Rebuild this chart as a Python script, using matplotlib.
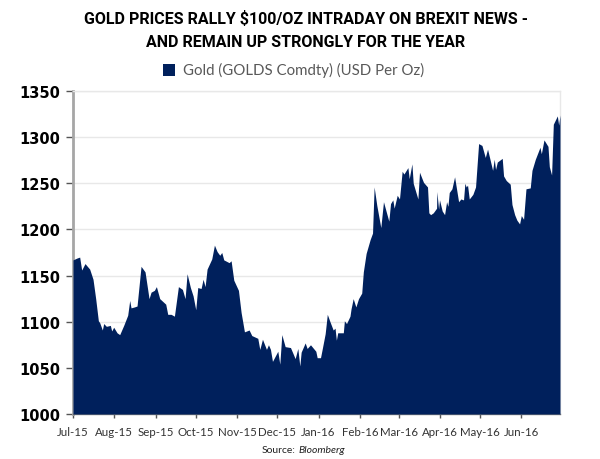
import datetime as dt
import matplotlib
matplotlib.use("Agg")
import matplotlib.pyplot as plt
import matplotlib.dates as mdates
from matplotlib.patches import Rectangle

title_lines = "GOLD PRICES RALLY $100/OZ INTRADAY ON BREXIT NEWS -\nAND REMAIN UP STRONGLY FOR THE YEAR"
series_name = "Gold (GOLDS Comdty) (USD Per Oz)"
y_ticks = [1000, 1050, 1100, 1150, 1200, 1250, 1300, 1350]

# days since 1 Jul 2015, gold price USD/oz
day_offset = [0, 3, 5, 6.5, 9, 12.5, 15, 17, 19, 20, 22, 23, 25, 28, 29, 30.5, 33, 35, 38, 41, 42.5, 43.5, 46, 48,
              51, 54, 57, 58.5, 61, 62.5, 65, 69.5, 71, 73.5, 76, 79, 82, 84, 85.5, 88, 90, 92, 93.5, 96, 97.5, 99,
              100.5, 104, 106, 108, 110, 111.5, 113, 117, 118.5, 120.5, 124, 126, 128.5, 132, 134, 138.5, 140, 142,
              145, 146.5, 148, 149.5, 153.5, 155, 156.5, 159, 163, 166.5, 168.5, 170, 171, 174, 175.5, 178, 182, 183,
              185.5, 187, 189, 190.6, 192.6, 195, 196.4, 197.4, 198.4, 202.6, 203.4, 205, 207.6, 208.4, 210, 212, 214,
              216.4, 217.6, 219.7, 222.7, 224.5, 225.7, 227.7, 230.7, 232.7, 236.7, 238, 239.7, 240.7, 243, 244.7,
              246.7, 248, 251, 252, 254, 255, 258.5, 259.7, 262.7, 265.7, 266.7, 268, 270, 272.5, 272.7, 274, 274.7,
              276.7, 278.5, 280, 281, 282, 284, 286, 289, 290.7, 292.7, 293.7, 294.7, 295.7, 297, 299.7, 301.7, 304,
              306.5, 309, 310.7, 314.5, 315.7, 316.7, 318, 321.7, 322.7, 324.7, 327.7, 329, 331, 332.7, 334.7, 336,
              337.7, 339.5, 342.7, 344, 346.5, 350, 351, 353, 356, 357, 358.7, 360, 363, 364, 365]
gold_price = [1167, 1169, 1170, 1156, 1163, 1157, 1146, 1125, 1101, 1099, 1091, 1098, 1095, 1096, 1090, 1094, 1088, 1086,
              1096, 1107, 1123, 1115, 1116, 1117, 1160, 1154, 1125, 1132, 1134, 1138, 1125, 1119, 1108, 1108, 1106, 1138,
              1135, 1125, 1152, 1137, 1128, 1113, 1137, 1136, 1146, 1138, 1157, 1168, 1183, 1176, 1172, 1175, 1167, 1164,
              1166, 1145, 1134, 1110, 1089, 1091, 1085, 1082, 1070, 1081, 1070, 1075, 1070, 1057, 1068, 1054, 1086, 1073,
              1072, 1060, 1071, 1052, 1067, 1077, 1071, 1075, 1068, 1061, 1061, 1072, 1087, 1108, 1100, 1091, 1093, 1080,
              1088, 1088, 1101, 1098, 1106, 1114, 1125, 1116, 1125, 1131, 1154, 1174, 1189, 1196, 1246, 1226, 1202, 1230,
              1209, 1228, 1232, 1223, 1237, 1233, 1263, 1260, 1267, 1255, 1271, 1250, 1233, 1262, 1251, 1246, 1218, 1216,
              1218, 1223, 1241, 1222, 1232, 1220, 1216, 1230, 1225, 1240, 1244, 1257, 1230, 1233, 1232, 1250, 1246, 1248,
              1233, 1238, 1246, 1293, 1291, 1278, 1287, 1264, 1276, 1265, 1273, 1277, 1258, 1253, 1249, 1227, 1216, 1210,
              1206, 1215, 1211, 1244, 1245, 1264, 1276, 1289, 1282, 1297, 1290, 1268, 1259, 1314, 1323, 1313, 1324]

NAVY = "#00205c"
start = mdates.date2num(dt.date(2015, 7, 1))
x = [start + d for d in day_offset]

fig = plt.figure(figsize=(6, 4.6), dpi=100, facecolor="white")
ax = fig.add_axes([73 / 600, 1 - 415 / 460, 487 / 600, 323 / 460])
ax.fill_between(x, gold_price, 1000, color=NAVY, linewidth=0, zorder=3)
ax.set_xlim(start, start + 365)
ax.set_ylim(1000, 1350)

ax.set_yticks(y_ticks)
ax.yaxis.grid(True, color="#e8e8e8", linewidth=1, zorder=0)
ax.set_axisbelow(True)
ax.tick_params(axis="y", length=5, width=1, color="#555555", pad=4, labelsize=10.5, labelcolor="black")
for lab in ax.get_yticklabels():
    lab.set_fontweight("bold")
    lab.set_fontfamily("DejaVu Sans")

ax.xaxis.set_major_locator(mdates.MonthLocator())
ax.xaxis.set_major_formatter(mdates.DateFormatter("%b-%y"))
ax.tick_params(axis="x", length=3, width=1, color="#555555", pad=6, labelsize=8.3, labelcolor="#333333")
for lab in ax.get_xticklabels():
    lab.set_fontfamily("Lato")

for side in ("top", "right"):
    ax.spines[side].set_color("#e8e8e8")
    ax.spines[side].set_linewidth(1)
ax.spines["left"].set_color("#a6a6a6")
ax.spines["left"].set_linewidth(2)
ax.spines["bottom"].set_color("#808080")
ax.spines["bottom"].set_linewidth(1)

fig.text(306 / 600, 1 - 30.5 / 460, title_lines, ha="center", va="center", fontsize=11.5,
         fontweight="bold", family="Roboto", color="black", linespacing=1.65)

fig.patches.append(Rectangle((163 / 600, 1 - 77 / 460), 12 / 600, 12 / 460, transform=fig.transFigure,
                             facecolor=NAVY, edgecolor="none"))
fig.text(183 / 600, 1 - 70 / 460, series_name, ha="left", va="center", fontsize=10.8,
         family="Lato", color="#595959")

fig.text(262 / 600, 1 - 451 / 460, "Source:", ha="left", va="center", fontsize=7.5, family="Lato", color="#222222")
fig.text(298 / 600, 1 - 451 / 460, "Bloomberg", ha="left", va="center", fontsize=7.5, family="Lato",
         style="italic", color="#222222")

fig.savefig("out.png", dpi=100, facecolor="white")
